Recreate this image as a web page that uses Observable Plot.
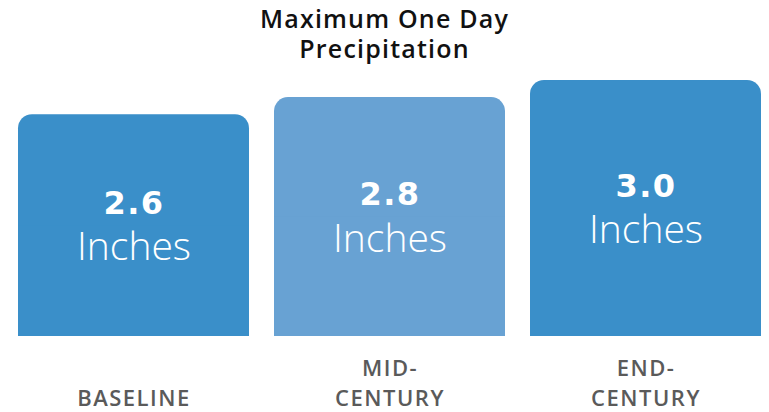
<!DOCTYPE html>
<html><head><meta charset="utf-8">
<script src="https://cdn.jsdelivr.net/npm/d3@7"></script>
<script src="https://cdn.jsdelivr.net/npm/@observablehq/plot@0.6"></script>
<style>
body{margin:0;background:#fff;width:769px;}
#title{height:68px;box-sizing:border-box;padding-top:3px;text-align:center;font-family:"Open Sans",sans-serif;font-weight:600;font-size:25px;line-height:30px;letter-spacing:1.2px;color:#111;}
</style></head><body>
<div id="title">Maximum One Day<br>Precipitation</div>
<div id="chart"></div>
<script>
const periods = ["Baseline", "Mid-Century", "End-Century"];
const labels = ["BASELINE", "MID-\nCENTURY", "END-\nCENTURY"];
const values = [2.6, 2.8, 3.0];
const valueLabels = ["2.6", "2.8", "3.0"];
const unitLabel = "Inches";
const barColors = ["#3a8fc9", "#68a2d3", "#3a8fc9"];

const data = periods.map((p, i) => ({
  period: p, label: labels[i], value: values[i],
  valueLabel: valueLabels[i], unit: unitLabel, color: barColors[i], half: values[i] / 2
}));

const chart = Plot.plot({
  width: 769,
  height: 344,
  marginTop: 12,
  marginBottom: 76,
  marginLeft: 18,
  marginRight: 8,
  x: {type: "band", domain: periods, paddingInner: 0.0977, paddingOuter: 0, axis: null},
  y: {domain: [0, 3.0], axis: null},
  marks: [
    Plot.barY(data, {x: "period", y: "value", fill: "color", rx: 14, ry: 14}),
    Plot.barY(data, {x: "period", y1: 0, y2: "half", fill: "color"}),
    Plot.text(data, {x: "period", y: "half", text: "valueLabel", dy: -22, fill: "white",
      fontFamily: "DejaVu Sans", fontWeight: "bold", fontSize: 32}),
    Plot.text(data, {x: "period", y: "half", text: "unit", dy: 22, fill: "white",
      fontFamily: "Open Sans", fontWeight: 300, fontSize: 39}),
    Plot.text(data, {x: "period", text: "label", frameAnchor: "bottom", lineAnchor: "bottom",
      dy: 69, lineHeight: 1.36, fill: "#5a5a5a", fontFamily: "Open Sans", fontWeight: 600, fontSize: 22})
  ]
});
d3.select(chart).selectAll("text").filter(function() { return valueLabels.includes(this.textContent); })
  .style("letter-spacing", "1.5px");
d3.select(chart).selectAll("text").filter(function() { return /BASELINE|CENTURY/.test(this.textContent); })
  .style("letter-spacing", "1.5px");
document.getElementById("chart").appendChild(chart);
</script>
</body></html>
